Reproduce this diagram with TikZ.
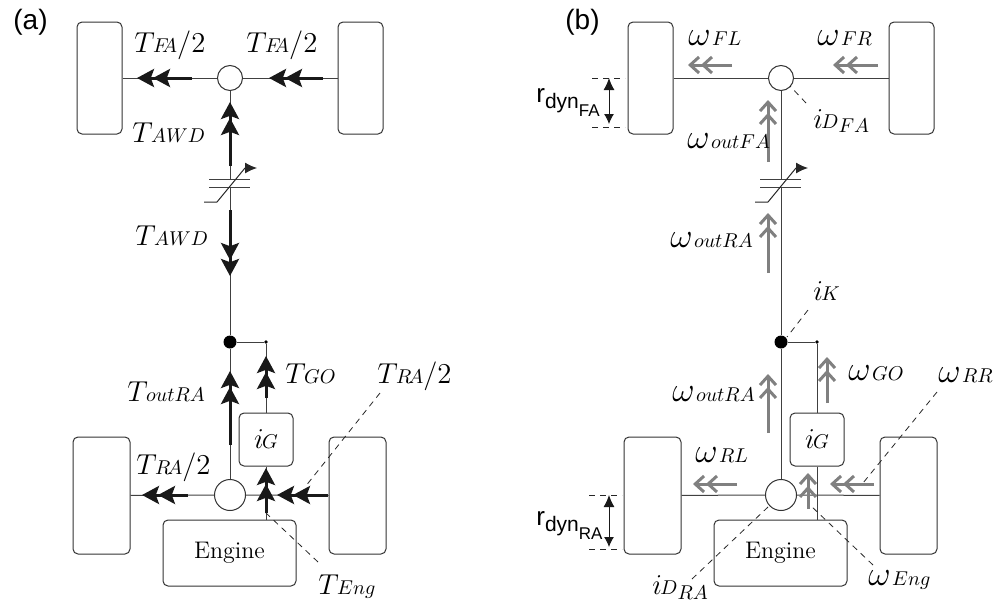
\documentclass[tikz,border=0pt]{standalone}
\usepackage{fontspec}
\setsansfont{Liberation Sans}
\usetikzlibrary{arrows.meta,calc,positioning}

\newcommand{\Tq}[1]{$T\mkern-1mu{\scriptstyle #1}$}
\newcommand{\Om}[1]{{\LARGE$\omega$}\kern.7pt$\scriptstyle #1$}
\newcommand{\Rdyn}[1]{\sffamily\fontsize{13}{14}\selectfont r\raisebox{-3pt}{\fontsize{10.5}{11}\selectfont dyn\raisebox{-4pt}{\fontsize{8.5}{9}\selectfont #1}}}

\tikzset{
 rim/.style={draw=black!80,line width=.5pt,rounded corners=2.5pt,minimum width=#1,inner sep=0pt},
 diff/.style={draw=black!80,line width=.5pt,fill=white,circle,inner sep=0pt,minimum size=#1},
 lbl/.style={anchor=base west,inner sep=0pt,font=\Large},
 shaft/.style={black!75,line width=.5pt},
 leader/.style={black!85,line width=.4pt,dash pattern=on 3pt off 2.5pt},
 torque/.style={line width=1.5pt,black!90,-{Stealth[length=8.5pt,width=9pt,inset=1.6pt,sep=-.5pt]Stealth[length=8.5pt,width=9pt,inset=1.6pt]}},
 speed/.style={line width=1.5pt,black!50,-{Straight Barb[length=4.4pt,width=8pt,sep=.2pt]Straight Barb[length=4.4pt,width=8pt]}},
}

\begin{document}
\begin{tikzpicture}[x=.5pt,y=-.5pt,>=Latex]
 \useasboundingbox (0,0) rectangle (1003,600);
 % both drivetrains
 \foreach \s/\dx in {a/0,b/551}{
  \begin{scope}[shift={(\dx,0)}]
   \node[rim=22.5pt,minimum height=56pt] (wheelFL\s) at (99.5,78) {};
   \node[rim=22.5pt,minimum height=56pt] (wheelFR\s) at (360.5,78) {};
   \node[rim=28.5pt,minimum height=58.5pt] (wheelRL\s) at (101.5,495.5) {};
   \node[rim=28.5pt,minimum height=58.5pt] (wheelRR\s) at (357.5,495.5) {};
   \node[rim=66.5pt,minimum height=33pt,font=\large] (engine\s) at (229.5,553) {Engine};
   \node[rim=27pt,minimum height=26.5pt,font=\Large] (gear\s) at (266,439.5) {$i\mkern-1mu{\scriptstyle G}$};
   \node[diff=12.5pt] (diffF\s) at (230,78) {};
   \node[diff=15.5pt] (diffR\s) at (230,495) {};
   \node[circle,fill=black,inner sep=0pt,minimum size=6.5pt] (junc\s) at (230,342) {};
   \node[circle,fill=black,inner sep=0pt,minimum size=1.8pt] (tap\s) at (266,342) {};
   \coordinate (clutchT\s) at (230,179);
   \coordinate (clutchB\s) at (230,187);
   \draw[shaft] (wheelFL\s) -- (diffF\s);
   \draw[shaft] (wheelFR\s) -- (diffF\s);
   \draw[shaft] (wheelRL\s) -- (diffR\s);
   \draw[shaft] (wheelRR\s) -- (diffR\s);
   \draw[shaft] (diffF\s) -- (clutchT\s);
   \draw[shaft] (clutchB\s) -- (junc\s);
   \draw[shaft] (junc\s) -- (diffR\s);
   \draw[shaft] (junc\s) -- (tap\s) -- (gear\s);
   \draw[shaft] (gear\s.south) -- (gear\s.south |- engine\s.north);
   % clutch
   \draw[shaft] ($(clutchT\s)+(-21,0)$) -- ($(clutchT\s)+(20,0)$);
   \draw[shaft] ($(clutchB\s)+(-21,0)$) -- ($(clutchB\s)+(20,0)$);
   \draw[black!85,line width=.5pt,-{Latex[length=6pt,width=5.5pt]}] ($(clutchB\s)+(-26,15)$) -- ($(clutchB\s)+(-13,15)$) -- ($(clutchT\s)+(15,-11)$) -- ($(clutchT\s)+(27,-11)$);
  \end{scope}
 }
 % torque arrows
 \foreach \n/\xa/\ya/\xb/\yb in {tqFL/192/78/137/78,tqFR/323/78/269/78,tqAWDu/230/166/230/102,tqAWDd/230/210/230/276,tqOut/230/445/230/371,tqGO/266/398/266/356,tqEng/266/513/266/468,tqRL/188/495/142/495,tqRR/328/495/277/495}{
  \coordinate (\n S) at (\xa,\ya);
  \coordinate (\n E) at (\xb,\yb);
  \draw[torque] (\n S) -- (\n E);
 }
 % speed arrows
 \foreach \n/\xa/\ya/\xb/\yb in {wFL/732/65/688/65,wFR/878/65/833/65,wOutF/768/162/768/100,wOutU/768/273/768/213,wOutL/768/433/768/374,wGO/827/403/827/357,wEng/808/509/808/473,wRL/737/484/693/484,wRR/874/484/830/484}{
  \coordinate (\n S) at (\xa,\ya);
  \coordinate (\n E) at (\xb,\yb);
  \draw[speed] (\n S) -- (\n E);
 }
 % leader lines
 \foreach \n/\xa/\ya/\xb/\yb in {ldTRA/380/393/305/487,ldTEng/318/562/266/513,ldFA/806/103/790/86,ldK/808/310/787/337,ldRR/937/392/863/483,ldEng/873/565/810/505,ldRA/692/579/768/507,ldFAa/592/78/625/78,ldFAb/592/127/625/127,ldRAa/589/495/622/495,ldRAb/589/549/622/549}{
  \coordinate (\n S) at (\xa,\ya);
  \coordinate (\n E) at (\xb,\yb);
  \draw[leader] (\n S) -- (\n E);
 }
 % wheel radius
 \coordinate (rFAt) at (609,78);
 \coordinate (rFAb) at (609,124);
 \coordinate (rRAt) at (609,495);
 \coordinate (rRAb) at (609,547);
 \draw[line width=.5pt,black!90,{Latex[length=6pt,width=5.5pt]}-{Latex[length=5pt,width=5pt]}] (rFAt) -- (rFAb);
 \draw[line width=.5pt,black!90,{Latex[length=6pt,width=5.5pt]}-{Latex[length=5pt,width=5pt]}] (rRAt) -- (rRAb);
 % labels
 \foreach \n/\x/\y/\lab in {
   lTFAl/134/52/{\Tq{F\mkern-6mu A}/2},lTFAr/246/52/{\Tq{F\mkern-6mu A}/2},
   lTAWDu/132/142/{\Tq{AWD}},lTAWDd/135/245/{\Tq{AWD}},
   lTOut/127/401/{\Tq{outRA}},lTGO/285/383/{\Tq{GO}},
   lTRAr/377/383/{\Tq{R\mkern-3mu A}/2},lTRAl/136/474/{\Tq{R\mkern-3mu A}/2},lTEng/318/594/{\Tq{Eng}},
   lwFL/688/45/{\Om{FL}},lwFR/817/45/{\Om{FR}},lwOutF/687/148/{\Om{outFA}},
   lwOutU/670/247/{\Om{outRA}},lwOutL/672/401/{\Om{outRA}},lwGO/848/380/{\Om{GO}},
   lwRR/938/382/{\Om{RR}},lwRL/695/462/{\Om{RL}},lwEng/868/585/{\Om{Eng}},
   liK/813/300/{$i\mkern-1mu{\scriptstyle K}$},
   liFA/813/128/{$i\mkern-1mu{\scriptstyle D}_{FA}$},
   liRA/652/594/{$i\mkern-1mu{\scriptstyle D}$\raisebox{-2.5pt}{$\scriptstyle RA$}}}{
  \node[lbl] (\n) at (\x,\y) {\lab};
 }
 \node[lbl,font=\sffamily\fontsize{14}{15}\selectfont] (tagA) at (13,29) {(a)};
 \node[lbl,font=\sffamily\fontsize{14}{15}\selectfont] (tagB) at (565,29) {(b)};
 \node[lbl,font=\normalsize] (rdynFA) at (536,102) {\Rdyn{FA}};
 \node[lbl,font=\normalsize] (rdynRA) at (536,525) {\Rdyn{RA}};
\end{tikzpicture}
\end{document}
